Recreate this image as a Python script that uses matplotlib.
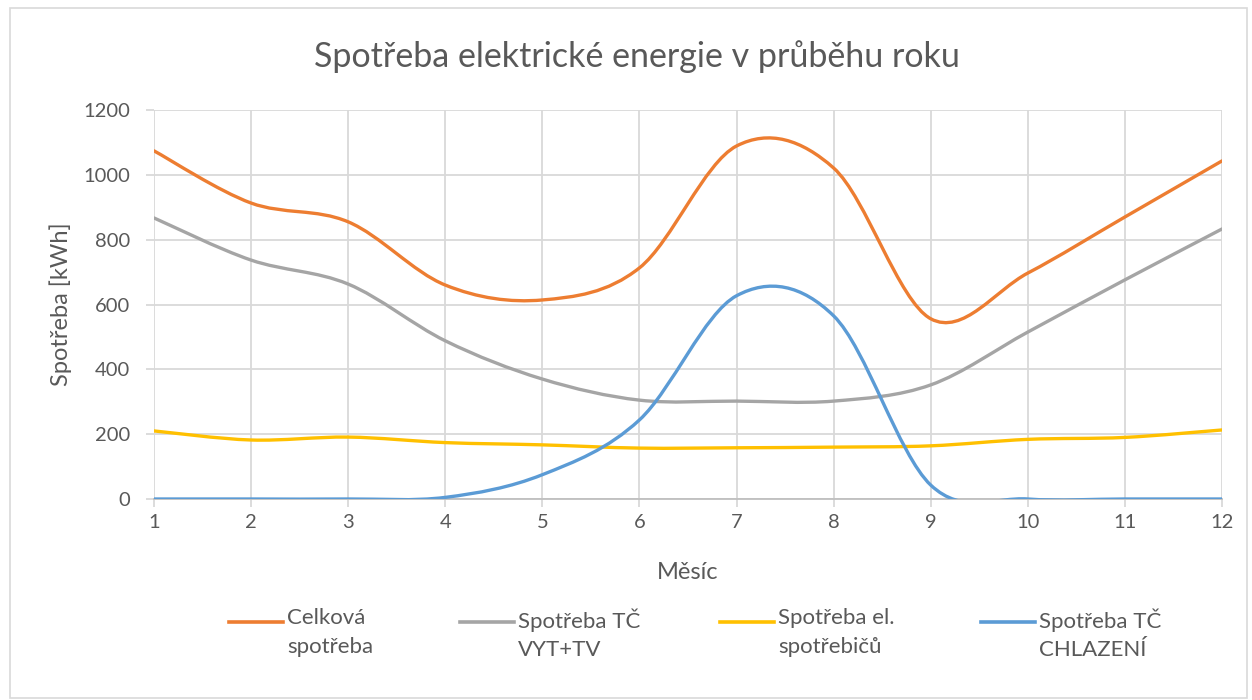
import matplotlib
matplotlib.use("Agg")
import matplotlib.pyplot as plt
from matplotlib.path import Path
from matplotlib.patches import PathPatch, Rectangle
from matplotlib.lines import Line2D

plt.rcParams["font.family"] = ["Lato", "DejaVu Sans"]

months = list(range(1, 13))
celkova = [1074, 913, 855, 660, 614, 713, 1089, 1021, 556, 697, 870, 1043]
tc_vyt_tv = [867, 737, 663, 488, 370, 305, 302, 302, 352, 515, 676, 833]
spotrebice = [210, 182, 191, 174, 167, 157, 158, 160, 164, 184, 190, 213]
chlazeni = [0, 0, 0, 5, 75, 244, 627, 565, 43, 0, 0, 0]

labels = ["Celková\nspotřeba", "Spotřeba TČ\nVYT+TV", "Spotřeba el.\nspotřebičů", "Spotřeba TČ\nCHLAZENÍ"]
colors = ["#ED7D31", "#A5A5A5", "#FFC000", "#5B9BD5"]
TEXT = "#595959"
GRID = "#D9D9D9"
W, H = 1252, 700


def smooth_path(xs, ys):
    # Excel-style smoothed line: Bezier segments with Catmull-Rom control points
    n = len(xs)
    verts = [(xs[0], ys[0])]
    codes = [Path.MOVETO]
    for i in range(n - 1):
        p0 = max(i - 1, 0)
        p3 = min(i + 2, n - 1)
        c1 = (xs[i] + (xs[i + 1] - xs[p0]) / 6, ys[i] + (ys[i + 1] - ys[p0]) / 6)
        c2 = (xs[i + 1] - (xs[p3] - xs[i]) / 6, ys[i + 1] - (ys[p3] - ys[i]) / 6)
        verts += [c1, c2, (xs[i + 1], ys[i + 1])]
        codes += [Path.CURVE4] * 3
    return Path(verts, codes)


fig = plt.figure(figsize=(W / 100, H / 100), dpi=100)
ax = fig.add_axes([154 / W, 1 - 499 / H, (1222 - 154) / W, (499 - 110) / H])

for ys, c in zip([celkova, tc_vyt_tv, spotrebice, chlazeni], colors):
    patch = PathPatch(smooth_path(months, ys), fill=False, edgecolor=c, lw=2.4,
                      capstyle="round", joinstyle="round", zorder=3)
    ax.add_patch(patch)

ax.set_xlim(1, 12)
ax.set_ylim(0, 1200)
ax.set_xticks(months)
ax.set_yticks(range(0, 1201, 200))
ax.grid(True, color=GRID, lw=1.3)
ax.set_axisbelow(True)
for s in ["top", "right", "left"]:
    ax.spines[s].set_visible(False)
ax.spines["bottom"].set_color("#BFBFBF")
ax.spines["bottom"].set_linewidth(1.3)
ax.tick_params(axis="both", colors=GRID, labelcolor=TEXT, labelsize=14.5, length=6, width=1.3)
ax.tick_params(axis="x", pad=5)
ax.tick_params(axis="y", pad=11)

ax.set_xlabel("Měsíc", fontsize=17, color=TEXT, labelpad=22)
ax.set_ylabel("Spotřeba [kWh]", fontsize=17, color=TEXT, labelpad=8)
fig.text(637 / W, 1 - 57 / H, "Spotřeba elektrické energie v průběhu roku", ha="center", va="center",
         fontsize=24.5, color=TEXT)

# legend laid out like Excel's: handle beside the first line of each two-line label
legend_x = [229, 460, 720, 981]
for x0, lab, c in zip(legend_x, labels, colors):
    fig.add_artist(Line2D([x0 / W, (x0 + 54) / W], [1 - 622 / H] * 2, color=c, lw=2.6,
                          transform=fig.transFigure))
    fig.text((x0 + 58) / W, 1 - 608 / H, lab, ha="left", va="top", fontsize=16,
             color=TEXT, linespacing=1.55)

fig.patches.append(Rectangle((0.008, 0.003), 0.988, 0.985, transform=fig.transFigure,
                             fill=False, edgecolor="#D9D9D9", lw=1.2))

fig.savefig("out.png", dpi=100)
